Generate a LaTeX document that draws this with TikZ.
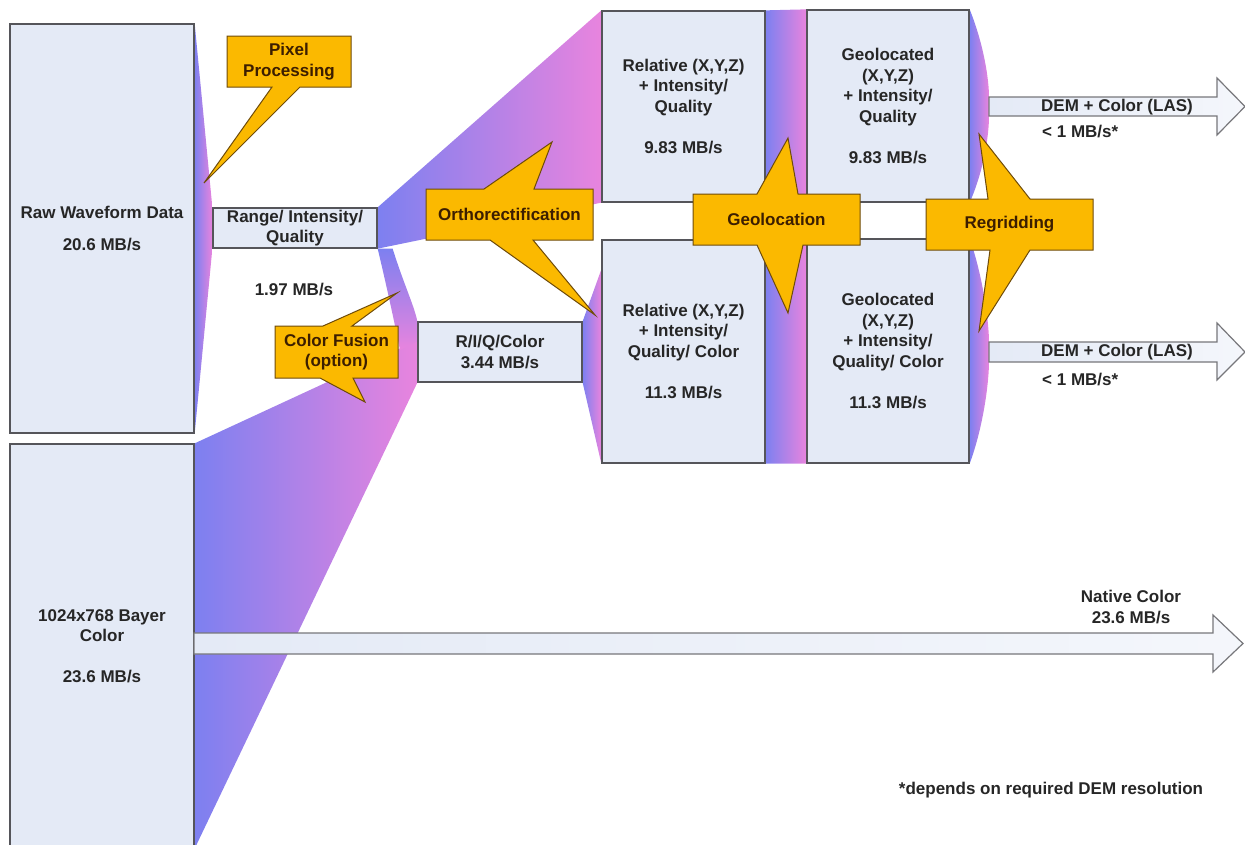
\documentclass[tikz,border=0pt]{standalone}
\usepackage{fontspec}
\setmainfont{Liberation Sans}
\usepackage{tikz}
\usetikzlibrary{
        backgrounds
    }
\definecolor{flowblue}{RGB}{125,128,240}
\definecolor{flowpink}{RGB}{232,132,222}
\definecolor{boxfill}{RGB}{228,234,246}
\definecolor{boxline}{RGB}{85,85,90}
\definecolor{callfill}{RGB}{251,185,0}
\definecolor{callline}{RGB}{110,75,10}
\definecolor{calltext}{RGB}{60,30,0}

\begin{document}
\begin{tikzpicture}
[x=1pt, y=-1pt,
basefont/.style={font=\bfseries\fontsize{17}{20.5}\selectfont, text=black!85, align=center},
databox/.style={basefont, rectangle, draw=boxline, fill=boxfill, line width=1.3pt, inner sep=0pt},
ratelabel/.style={basefont, inner sep=0pt},
flow/.style={left color=flowblue, right color=flowpink},
fall/.style={top color=flowblue, bottom color=flowpink},
callout/.style={fill=callfill, draw=callline, line width=1pt, line join=miter},
calltext/.style={basefont, text=calltext, inner sep=0pt},
fatarrow/.style={draw=boxline!80, line width=1.2pt, left color=boxfill, right color=boxfill!40},]
    \useasboundingbox (0,0) rectangle (1245,844);
    \node (raw) [databox, minimum width=184pt, minimum height=409pt] at (102,228.5) {Raw Waveform Data\\[12pt]20.6 MB/s};
    \node (bayer) [databox, minimum width=184pt, minimum height=404pt] at (102,646) {1024x768 Bayer\\Color\\[20.5pt]23.6 MB/s};
    \node (range) [databox, minimum width=164pt, minimum height=40pt] at (295,228) {Range/ Intensity/\\Quality};
    \node (riqc) [databox, minimum width=164pt, minimum height=60pt] at (500,352) {R/I/Q/Color\\3.44 MB/s};
    \node (rel1) [databox, minimum width=163pt, minimum height=191pt] at (683.5,106.5) {Relative (X,Y,Z)\\+ Intensity/\\Quality\\[20.5pt]9.83 MB/s};
    \node (rel2) [databox, minimum width=163pt, minimum height=223pt] at (683.5,351.5) {Relative (X,Y,Z)\\+ Intensity/\\Quality/ Color\\[20.5pt]11.3 MB/s};
    \node (geo1) [databox, minimum width=162pt, minimum height=192pt] at (888,106) {Geolocated\\(X,Y,Z)\\+ Intensity/\\Quality\\[20.5pt]9.83 MB/s};
    \node (geo2) [databox, minimum width=162pt, minimum height=224pt] at (888,351) {Geolocated\\(X,Y,Z)\\+ Intensity/\\Quality/ Color\\[20.5pt]11.3 MB/s};
    \coordinate (dem1) at (989,106.5);
    \coordinate (dem2) at (989,352);
    \coordinate (native) at (194,643.5);
    \begin{pgfonlayer}{background}
    \shade[flow] (raw.north east) -- (range.north west) -- (range.south west) -- (raw.south east) -- cycle;
    \shade[flow] (range.north east) -- (rel1.north west) -- (rel1.south west) -- (range.south east) -- cycle;
    \shade[flow] (bayer.north east) -- ([yshift=-19pt]riqc.north west) -- (riqc.south west) -- (bayer.south east) -- cycle;
    \shade[fall] (range.south east) -- ([xshift=15pt]range.south east) .. controls (404,285) and (414,305) .. (riqc.north west) -- ([yshift=-20pt]riqc.north west) -- (400,350) .. controls (393,315) and (384,275) .. (range.south east) -- cycle;
    \shade[flow] (riqc.north east) -- ([yshift=-30pt]rel2.north west) -- (rel2.south west) -- (riqc.south east) -- cycle;
    \shade[flow] (rel1.north east) -- (geo1.north west) -- (geo2.south west) -- (rel2.south east) -- cycle;
    \shade[flow] (geo1.north east) .. controls (984,45) and (989,80) .. ([yshift=9.5pt]dem1) -- ([yshift=-9.5pt]dem1) .. controls (989,135) and (984,170) .. (geo1.south east) -- cycle;
    \shade[flow] (geo2.north east) .. controls (984,280) and (989,325) .. ([yshift=10pt]dem2) -- ([yshift=-10pt]dem2) .. controls (989,380) and (984,425) .. (geo2.south east) -- cycle;
    \end{pgfonlayer}
    \draw[fatarrow] ([yshift=9.5pt]dem1) -- (1217,97) -- (1217,78) -- (1245,106.5) -- (1217,135) -- (1217,116) -- ([yshift=-9.5pt]dem1) -- cycle;
    \draw[fatarrow] ([yshift=10pt]dem2) -- (1217,342) -- (1217,323) -- (1245,352) -- (1217,380) -- (1217,362) -- ([yshift=-10pt]dem2) -- cycle;
    \draw[fatarrow] ([yshift=10.5pt]native) -- (1213,633) -- (1213,615) -- (1243,643.5) -- (1213,672) -- (1213,654) -- ([yshift=-10.5pt]native) -- cycle;
    \node (rirate) [ratelabel] at (294,290) {1.97 MB/s};
    \node (dem1txt) [ratelabel] at (1117,107) {DEM + Color (LAS)};
    \node (dem1rate) [ratelabel, anchor=west] at (1042,132) {< 1 MB/s*};
    \node (dem2txt) [ratelabel] at (1117,352) {DEM + Color (LAS)};
    \node (dem2rate) [ratelabel, anchor=west] at (1042,380) {< 1 MB/s*};
    \node (nattxt) [ratelabel] at (1131,607) {Native Color\\23.6 MB/s};
    \node (note) [ratelabel] at (1051,790) {*depends on required DEM resolution};
    % callouts
    \draw[callout] (227,36) -- (351,36) -- (351,87) -- (300,87) -- (204,183) -- (272,87) -- (227,87) -- cycle;
    \node (pixel) [calltext] at (289,61.5) {Pixel\\Processing};
    \draw[callout] (275,326) -- (323,326) -- (397,293) -- (352,326) -- (398,326) -- (398,378) -- (353,378) -- (365,402) -- (320,378) -- (275,378) -- cycle;
    \node (fusion) [calltext] at (336.5,352) {Color Fusion\\(option)};
    \draw[callout] (426,189) -- (484,189) -- (552,142) -- (534,189) -- (593,189) -- (593,240) -- (533,240) -- (595,315) -- (490,240) -- (426,240) -- cycle;
    \node (ortho) [calltext] at (509.5,214.5) {Orthorectification};
    \draw[callout] (693,194) -- (757,194) -- (788,138) -- (798,194) -- (860,194) -- (860,245) -- (803,245) -- (788,313) -- (757,245) -- (693,245) -- cycle;
    \node (geoloc) [calltext] at (776.5,219.5) {Geolocation};
    \draw[callout] (926,199) -- (988,199) -- (979,134) -- (1030,199) -- (1093,199) -- (1093,250) -- (1030,250) -- (979,331) -- (990,250) -- (926,250) -- cycle;
    \node (regrid) [calltext] at (1009.5,224.5) {Regridding};
\end{tikzpicture}
\end{document}
